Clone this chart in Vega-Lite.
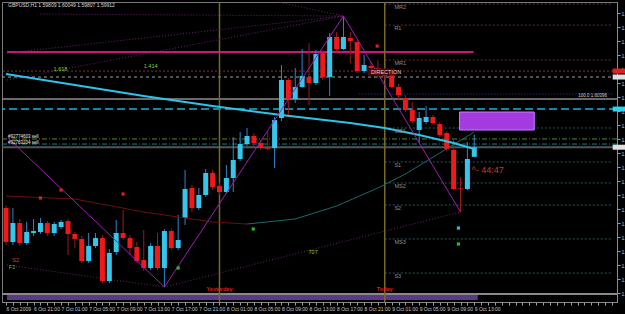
{
"$schema": "https://vega.github.io/schema/vega-lite/v6.json",
"width": 615, "height": 300,
"autosize": {"type": "none"},
"padding": {"left": 2, "top": 2, "right": 8, "bottom": 12},
"background": "#000000",
"config": {"view": {"stroke": "#7a7a7a", "strokeWidth": 1}, "font": "Liberation Sans",
 "axis": {"grid": false, "labelFontSize": 5, "labelColor": "#c8c8c8", "tickSize": 3, "tickColor": "#a0a0a0", "domainColor": "#8a8a8a", "labelPadding": 1, "labelOverlap": false},
 "axisX": {"labelAlign": "left", "labelFlush": false, "labelBound": false, "labelOverlap": false},
 "axisY": {"labelOverlap": false, "labelBaseline": "middle"}},
"datasets": {
"candles": [
{"k":0,"o":1.59260,"h":1.59292,"l":1.58864,"c":1.58896},
{"k":1,"o":1.58896,"h":1.59260,"l":1.58864,"c":1.59100},
{"k":2,"o":1.59100,"h":1.59143,"l":1.58854,"c":1.58886},
{"k":3,"o":1.58886,"h":1.59111,"l":1.58864,"c":1.59004},
{"k":4,"o":1.58993,"h":1.59143,"l":1.58961,"c":1.59014},
{"k":5,"o":1.59004,"h":1.59154,"l":1.58982,"c":1.59100},
{"k":6,"o":1.59100,"h":1.59121,"l":1.58961,"c":1.58993},
{"k":7,"o":1.58993,"h":1.59111,"l":1.58961,"c":1.59089},
{"k":8,"o":1.59057,"h":1.59132,"l":1.59036,"c":1.59111},
{"k":9,"o":1.59121,"h":1.59143,"l":1.58757,"c":1.58982},
{"k":10,"o":1.58982,"h":1.59004,"l":1.58832,"c":1.58929},
{"k":11,"o":1.58929,"h":1.58961,"l":1.58672,"c":1.58693},
{"k":12,"o":1.58693,"h":1.58993,"l":1.58672,"c":1.58854},
{"k":13,"o":1.58854,"h":1.58993,"l":1.58832,"c":1.58939},
{"k":14,"o":1.58939,"h":1.58971,"l":1.58457,"c":1.58478},
{"k":15,"o":1.58478,"h":1.58821,"l":1.58457,"c":1.58779},
{"k":16,"o":1.58789,"h":1.59132,"l":1.58757,"c":1.58993},
{"k":17,"o":1.58993,"h":1.59239,"l":1.58918,"c":1.58939},
{"k":18,"o":1.58939,"h":1.58971,"l":1.58757,"c":1.58832},
{"k":19,"o":1.58843,"h":1.58896,"l":1.58672,"c":1.58693},
{"k":20,"o":1.58704,"h":1.59025,"l":1.58586,"c":1.58618},
{"k":21,"o":1.58618,"h":1.58886,"l":1.58596,"c":1.58854},
{"k":22,"o":1.58854,"h":1.58993,"l":1.58596,"c":1.58618},
{"k":23,"o":1.58618,"h":1.59036,"l":1.58414,"c":1.59014},
{"k":24,"o":1.59014,"h":1.59036,"l":1.58811,"c":1.58832},
{"k":25,"o":1.58832,"h":1.59186,"l":1.58811,"c":1.58918},
{"k":26,"o":1.59154,"h":1.59668,"l":1.59079,"c":1.59464},
{"k":27,"o":1.59475,"h":1.59507,"l":1.59218,"c":1.59260},
{"k":28,"o":1.59260,"h":1.59475,"l":1.59239,"c":1.59400},
{"k":29,"o":1.59400,"h":1.59679,"l":1.59379,"c":1.59636},
{"k":30,"o":1.59636,"h":1.59668,"l":1.59453,"c":1.59486},
{"k":31,"o":1.59496,"h":1.59529,"l":1.59400,"c":1.59432},
{"k":32,"o":1.59432,"h":1.59721,"l":1.59411,"c":1.59582},
{"k":33,"o":1.59582,"h":1.60021,"l":1.59432,"c":1.59775},
{"k":34,"o":1.59786,"h":1.60075,"l":1.59764,"c":1.59946},
{"k":35,"o":1.59946,"h":1.60118,"l":1.59925,"c":1.60032},
{"k":36,"o":1.60032,"h":1.60064,"l":1.59925,"c":1.59957},
{"k":37,"o":1.59957,"h":1.59989,"l":1.59882,"c":1.59904},
{"k":38,"o":1.59904,"h":1.60075,"l":1.59882,"c":1.59896},
{"k":39,"o":1.59904,"h":1.60236,"l":1.59689,"c":1.60203},
{"k":40,"o":1.60225,"h":1.60793,"l":1.60193,"c":1.60632},
{"k":41,"o":1.60632,"h":1.60653,"l":1.60236,"c":1.60428},
{"k":42,"o":1.60428,"h":1.60761,"l":1.60386,"c":1.60557},
{"k":43,"o":1.60557,"h":1.60964,"l":1.60546,"c":1.60675},
{"k":44,"o":1.60664,"h":1.61028,"l":1.60364,"c":1.60600},
{"k":45,"o":1.60600,"h":1.60953,"l":1.60578,"c":1.60910},
{"k":46,"o":1.60921,"h":1.60953,"l":1.60632,"c":1.60664},
{"k":47,"o":1.60664,"h":1.61136,"l":1.60461,"c":1.61093},
{"k":48,"o":1.61093,"h":1.61146,"l":1.60932,"c":1.60964},
{"k":49,"o":1.60964,"h":1.61318,"l":1.60953,"c":1.61093},
{"k":50,"o":1.61082,"h":1.61146,"l":1.60814,"c":1.61050},
{"k":51,"o":1.61039,"h":1.61060,"l":1.60707,"c":1.60728},
{"k":52,"o":1.60728,"h":1.60900,"l":1.60707,"c":1.60793},
{"k":53,"o":1.60782,"h":1.60825,"l":1.60739,"c":1.60761},
{"k":54,"o":1.60761,"h":1.60846,"l":1.60653,"c":1.60696},
{"k":55,"o":1.60718,"h":1.60761,"l":1.60632,"c":1.60675},
{"k":56,"o":1.60707,"h":1.60739,"l":1.60546,"c":1.60557},
{"k":57,"o":1.60557,"h":1.60589,"l":1.60418,"c":1.60471},
{"k":58,"o":1.60439,"h":1.60471,"l":1.60289,"c":1.60310},
{"k":59,"o":1.60310,"h":1.60396,"l":1.60171,"c":1.60193},
{"k":60,"o":1.60096,"h":1.60289,"l":1.59957,"c":1.60225},
{"k":61,"o":1.60182,"h":1.60353,"l":1.60161,"c":1.60236},
{"k":62,"o":1.60236,"h":1.60257,"l":1.60150,"c":1.60171},
{"k":63,"o":1.60161,"h":1.60182,"l":1.60021,"c":1.60043},
{"k":64,"o":1.60064,"h":1.60086,"l":1.59871,"c":1.59893},
{"k":65,"o":1.59882,"h":1.59989,"l":1.59453,"c":1.59464},
{"k":66,"o":1.59475,"h":1.59593,"l":1.59218,"c":1.59468},
{"k":67,"o":1.59464,"h":1.59968,"l":1.59453,"c":1.59786},
{"k":68,"o":1.59809,"h":1.60049,"l":1.59807,"c":1.59912}
],
"maFast": [
{"k":0,"p":1.60696},{"k":10,"p":1.60578},{"k":20,"p":1.60461},{"k":30,"p":1.60353},{"k":40,"p":1.60257},{"k":50,"p":1.60171},{"k":55,"p":1.60118},{"k":60,"p":1.60043},{"k":65,"p":1.59957},{"k":68,"p":1.59893}
],
"maSlowA": [
{"k":0,"p":1.59389},{"k":10,"p":1.59357},{"k":20,"p":1.59218},{"k":30,"p":1.59111},{"k":35,"p":1.59089}
],
"maSlowB": [
{"k":35,"p":1.59089},{"k":42,"p":1.59143},{"k":48,"p":1.59282},{"k":54,"p":1.59475},{"k":58,"p":1.59625},{"k":63,"p":1.59850},{"k":68,"p":1.60075}
],
"zigzag": [
{"k":0.3,"p":1.60011},{"k":23,"p":1.58414},{"k":49,"p":1.61318},{"k":66,"p":1.59218}
],
"fan": [
{"id":"a","k":5,"p":1.61339},{"id":"a","k":49,"p":1.61318},
{"id":"b","k":0.15,"p":1.60921},{"id":"b","k":49,"p":1.61318},
{"id":"c","k":0.15,"p":1.60632},{"id":"c","k":49,"p":1.61318},
{"id":"d","k":23,"p":1.58414},{"id":"d","k":66,"p":1.59218},
{"id":"e","k":0.15,"p":1.58650},{"id":"e","k":23,"p":1.58414},
{"id":"f","k":39.4,"p":1.61468},{"id":"f","k":49,"p":1.61318}
],
"pivR": [
{"p":1.61446,"t":"MR2"},{"p":1.61221,"t":"R1"},{"p":1.60846,"t":"MR1"}
],
"pivS": [
{"p":1.60118,"t":"MS1"},{"p":1.59754,"t":"S1"},{"p":1.59529,"t":"MS2"},{"p":1.59293,"t":"S2"},{"p":1.58929,"t":"MS3"},{"p":1.58564,"t":"S3"}
],
"redDots": [{"k":53.9,"p":1.60996},{"k":8,"p":1.59453},{"k":5,"p":1.59368},{"k":17,"p":1.59411}],
"greenDots": [{"k":25,"p":1.58618},{"k":35.9,"p":1.59036},{"k":65.7,"p":1.58875}],
"cyanDots": [{"k":65.7,"p":1.59046}],
"days": [
{"k":31,"t":"Yesterday"},{"k":55,"t":"Today"}
],
"fibText": [
{"k":7.9,"p":1.60750,"t":"1.618"},{"k":21,"p":1.60782,"t":"1.414"},{"k":44.6,"p":1.58789,"t":"707"}
],
"sellText": [
{"k":0.3,"p":1.60021,"t":"#92774603 sell"},{"k":0.3,"p":1.59957,"t":"#92783204 sell"}
]
},
"layer": [
{"data": {"values": [{"k":1,"p":1.6}]},
 "mark": {"type":"point","opacity":0},
 "encoding": {
  "x": {"field":"k","type":"quantitative","scale":{"domain":[0.143,88],"nice":false,"zero":false},
   "axis":{"title":null,"tickCount":200,"values":[0,1,2,3,4,5,6,7,8,9,10,11,12,13,14,15,16,17,18,19,20,21,22,23,24,25,26,27,28,29,30,31,32,33,34,35,36,37,38,39,40,41,42,43,44,45,46,47,48,49,50,51,52,53,54,55,56,57,58,59,60,61,62,63,64,65,66,67,68,69,70,71,72,73,74,75,76,77,78,79,80,81,82,83,84,85,86,87,88],
    "labelExpr":"(datum.value % 4 == 0 && datum.value <= 68) ? (datum.value == 0 ? '6 Oct 2009' : timeFormat(datetime(2009, 9, 6, 17 + datum.value, 0), '%-d %b %H:%M')) : ''",
    "labelAlign":"left","labelOverlap":false,"labelFlush":false,"labelBound":false}},
  "y": {"field":"p","type":"quantitative","scale":{"domain":[1.582536,1.614679],"nice":false,"zero":false},
   "axis":{"title":null,"orient":"right","tickCount":100,"values":[1.5835,1.585,1.5865,1.588,1.5895,1.591,1.5925,1.594,1.5955,1.597,1.5985,1.6,1.6015,1.603,1.6045,1.606,1.6075,1.609,1.6105,1.612,1.6135],
    "format":".5f","labelOverlap":false}}
 }},
{"data": {"values": [{"k":0.15,"k2":68.5,"p":1.58328,"p2":1.58275}]},
 "mark": {"type":"rect","color":"#5a3a86"},
 "encoding": {"x": {"field":"k","type":"quantitative"},"x2": {"field":"k2"},"y": {"field":"p","type":"quantitative"},"y2": {"field":"p2"}}},
{"data": {"values": [{"p":1.58339}]},
 "mark": {"type":"rule","color":"#8a8a8a","strokeWidth":2},
 "encoding": {"y": {"field":"p","type":"quantitative"}}},
{"data": {"values": [{"p":1.60664}]},
 "mark": {"type":"rule","color":"#a0a0a0","strokeDash":[3,3]},
 "encoding": {"y": {"field":"p","type":"quantitative"}}},
{"data": {"values": [{"p":1.60728}]},
 "mark": {"type":"rule","color":"#8b2a2a","strokeDash":[2,2]},
 "encoding": {"y": {"field":"p","type":"quantitative"}}},
{"data": {"values": [{"p":1.60428}]},
 "mark": {"type":"rule","color":"#8c8c8c","strokeWidth":1.5},
 "encoding": {"y": {"field":"p","type":"quantitative"}}},
{"data": {"values": [{"p":1.60321}]},
 "mark": {"type":"rule","color":"#1ab0d8","strokeWidth":1.5,"strokeDash":[8,4]},
 "encoding": {"y": {"field":"p","type":"quantitative"}}},
{"data": {"values": [{"p":1.60000}]},
 "mark": {"type":"rule","color":"#4a8a2a","strokeDash":[5,2,1,2]},
 "encoding": {"y": {"field":"p","type":"quantitative"}}},
{"data": {"values": [{"p":1.59946}]},
 "mark": {"type":"rule","color":"#1a7a8a","strokeDash":[5,2,1,2]},
 "encoding": {"y": {"field":"p","type":"quantitative"}}},
{"data": {"values": [{"p":1.59912}]},
 "mark": {"type":"rule","color":"#555555","strokeWidth":2},
 "encoding": {"y": {"field":"p","type":"quantitative"}}},
{"data": {"name":"pivR"},
 "mark": {"type":"rule","color":"#5a3030","strokeDash":[2,2]},
 "encoding": {"x": {"datum":55,"type":"quantitative"},"x2":{"datum":88},"y": {"field":"p","type":"quantitative"}}},
{"data": {"name":"pivS"},
 "mark": {"type":"rule","color":"#2a5a5a","strokeDash":[2,2]},
 "encoding": {"x": {"datum":55,"type":"quantitative"},"x2":{"datum":88},"y": {"field":"p","type":"quantitative"}}},
{"data": {"values": [{"p":1.60482}]},
 "mark": {"type":"rule","color":"#2a3a9a","strokeDash":[1,2]},
 "encoding": {"x": {"datum":51.3,"type":"quantitative"},"x2":{"datum":88},"y": {"field":"p","type":"quantitative"}}},
{"data": {"values": [{"p":1.60932}]},
 "mark": {"type":"rule","color":"#c8167a","strokeWidth":2},
 "encoding": {"x": {"datum":0.15,"type":"quantitative"},"x2":{"datum":67.9},"y": {"field":"p","type":"quantitative"}}},
{"data": {"values": [{"k":65.86,"k2":76.71,"p":1.60289,"p2":1.60096}]},
 "mark": {"type":"rect","color":"#a43be0","stroke":"#c77dff","strokeWidth":1},
 "encoding": {"x": {"field":"k","type":"quantitative"},"x2":{"field":"k2"},"y": {"field":"p","type":"quantitative"},"y2":{"field":"p2"}}},
{"data": {"name":"days"},
 "mark": {"type":"rule","color":"#7a6a2a","strokeWidth":1.5},
 "encoding": {"x": {"field":"k","type":"quantitative"}}},
{"data": {"name":"fan"},
 "mark": {"type":"line","color":"#6a2070","strokeDash":[1,2],"strokeWidth":1},
 "encoding": {"x": {"field":"k","type":"quantitative"},"y": {"field":"p","type":"quantitative"},"detail":{"field":"id"}}},
{"data": {"name":"candles"},
 "mark": {"type":"rule","strokeWidth":1},
 "encoding": {"x": {"field":"k","type":"quantitative"},"y": {"field":"h","type":"quantitative"},"y2":{"field":"l"},
  "color": {"condition": {"test":"datum.c >= datum.o","value":"#2a86d0"},"value":"#9a1a1a"}}},
{"data": {"name":"candles"},
 "mark": {"type":"bar","size":5},
 "encoding": {"x": {"field":"k","type":"quantitative"},"y": {"field":"o","type":"quantitative"},"y2":{"field":"c"},
  "color": {"condition": {"test":"datum.c >= datum.o","value":"#36c6ec"},"value":"#f01818"}}},
{"data": {"name":"maSlowA"},
 "mark": {"type":"line","color":"#6a1010","strokeWidth":1},
 "encoding": {"x": {"field":"k","type":"quantitative"},"y": {"field":"p","type":"quantitative"}}},
{"data": {"name":"maSlowB"},
 "mark": {"type":"line","color":"#1a6a6a","strokeWidth":1},
 "encoding": {"x": {"field":"k","type":"quantitative"},"y": {"field":"p","type":"quantitative"}}},
{"data": {"name":"maFast"},
 "mark": {"type":"line","color":"#2cc4e8","strokeWidth":2},
 "encoding": {"x": {"field":"k","type":"quantitative"},"y": {"field":"p","type":"quantitative"}}},
{"data": {"name":"zigzag"},
 "mark": {"type":"line","color":"#9a20b0","strokeWidth":1},
 "encoding": {"x": {"field":"k","type":"quantitative"},"y": {"field":"p","type":"quantitative"}}},
{"data": {"name":"redDots"},
 "mark": {"type":"square","size":10,"color":"#e02020","opacity":1},
 "encoding": {"x": {"field":"k","type":"quantitative"},"y": {"field":"p","type":"quantitative"}}},
{"data": {"name":"greenDots"},
 "mark": {"type":"square","size":10,"color":"#20c020","opacity":1},
 "encoding": {"x": {"field":"k","type":"quantitative"},"y": {"field":"p","type":"quantitative"}}},
{"data": {"name":"cyanDots"},
 "mark": {"type":"square","size":10,"color":"#20c0e0","opacity":1},
 "encoding": {"x": {"field":"k","type":"quantitative"},"y": {"field":"p","type":"quantitative"}}},
{"data": {"values": [{"p":1.60718}]},
 "mark": {"type":"rule","color":"#4a0808","strokeWidth":7},
 "encoding": {"x": {"datum":52.5,"type":"quantitative"},"x2":{"datum":56.6},"y": {"field":"p","type":"quantitative"}}},
{"data": {"values": [{"k":53,"p":1.60718,"t":"DIRECTION"}]},
 "mark": {"type":"text","align":"left","baseline":"middle","fontSize":5.5,"color":"#f0c8c8"},
 "encoding": {"x": {"field":"k","type":"quantitative"},"y": {"field":"p","type":"quantitative"},"text":{"field":"t"}}},
{"data": {"name":"pivR"},
 "mark": {"type":"text","align":"left","baseline":"top","dy":1,"fontSize":5.5,"color":"#909090"},
 "encoding": {"x": {"datum":56.4,"type":"quantitative"},"y": {"field":"p","type":"quantitative"},"text":{"field":"t"}}},
{"data": {"name":"pivS"},
 "mark": {"type":"text","align":"left","baseline":"top","dy":1,"fontSize":5.5,"color":"#909090"},
 "encoding": {"x": {"datum":56.4,"type":"quantitative"},"y": {"field":"p","type":"quantitative"},"text":{"field":"t"}}},
{"data": {"name":"days"},
 "mark": {"type":"text","align":"center","baseline":"middle","fontSize":5.5,"fontWeight":"bold","color":"#e02020"},
 "encoding": {"x": {"field":"k","type":"quantitative"},"y": {"datum":1.58393,"type":"quantitative"},"text":{"field":"t"}}},
{"data": {"name":"fibText"},
 "mark": {"type":"text","align":"center","baseline":"middle","fontSize":5.5,"color":"#8ccc30"},
 "encoding": {"x": {"field":"k","type":"quantitative"},"y": {"field":"p","type":"quantitative"},"text":{"field":"t"}}},
{"data": {"name":"sellText"},
 "mark": {"type":"text","align":"left","baseline":"middle","fontSize":4.5,"color":"#e8e8e8"},
 "encoding": {"x": {"field":"k","type":"quantitative"},"y": {"field":"p","type":"quantitative"},"text":{"field":"t"}}},
{"data": {"values": [{"k":0.3,"p":1.61436,"t":"GBPUSD,H1 1.59809 1.60049 1.59807 1.59912"}]},
 "mark": {"type":"text","align":"left","baseline":"middle","fontSize":5,"color":"#d8d8d8"},
 "encoding": {"x": {"field":"k","type":"quantitative"},"y": {"field":"p","type":"quantitative"},"text":{"field":"t"}}},
{"data": {"values": [{"k":67.6,"p":1.59668,"t":"^- 44:47"}]},
 "mark": {"type":"text","align":"left","baseline":"middle","fontSize":9,"color":"#c83a3a"},
 "encoding": {"x": {"field":"k","type":"quantitative"},"y": {"field":"p","type":"quantitative"},"text":{"field":"t"}}},
{"data": {"values": [{"k":83.1,"p":1.60461,"t":"100.0 1.60396"}]},
 "mark": {"type":"text","align":"left","baseline":"middle","fontSize":4.5,"color":"#d0d0d0"},
 "encoding": {"x": {"field":"k","type":"quantitative"},"y": {"field":"p","type":"quantitative"},"text":{"field":"t"}}},
{"data": {"values": [{"k":0.9,"p":1.58704,"t":"S2"}]},
 "mark": {"type":"text","align":"left","baseline":"middle","fontSize":5.5,"color":"#e03030"},
 "encoding": {"x": {"field":"k","type":"quantitative"},"y": {"field":"p","type":"quantitative"},"text":{"field":"t"}}},
{"data": {"values": [{"k":0.4,"p":1.58629,"t":"F2"}]},
 "mark": {"type":"text","align":"left","baseline":"middle","fontSize":5.5,"color":"#80a040"},
 "encoding": {"x": {"field":"k","type":"quantitative"},"y": {"field":"p","type":"quantitative"},"text":{"field":"t"}}},
{"data": {"values": [{"p":1.60728}]},
 "mark": {"type":"rule","strokeWidth":5,"color":"#e02020"},
 "encoding": {"x": {"datum":88.1,"type":"quantitative"},"x2":{"datum":90},"y": {"field":"p","type":"quantitative"}}},
{"data": {"values": [{"p":1.60664},{"p":1.59912}]},
 "mark": {"type":"rule","strokeWidth":5,"color":"#e0e0e0"},
 "encoding": {"x": {"datum":88.1,"type":"quantitative"},"x2":{"datum":90},"y": {"field":"p","type":"quantitative"}}},
{"data": {"values": [{"p":1.60321}]},
 "mark": {"type":"rule","strokeWidth":5,"color":"#30d0f0"},
 "encoding": {"x": {"datum":88.1,"type":"quantitative"},"x2":{"datum":90},"y": {"field":"p","type":"quantitative"}}}
]
}
